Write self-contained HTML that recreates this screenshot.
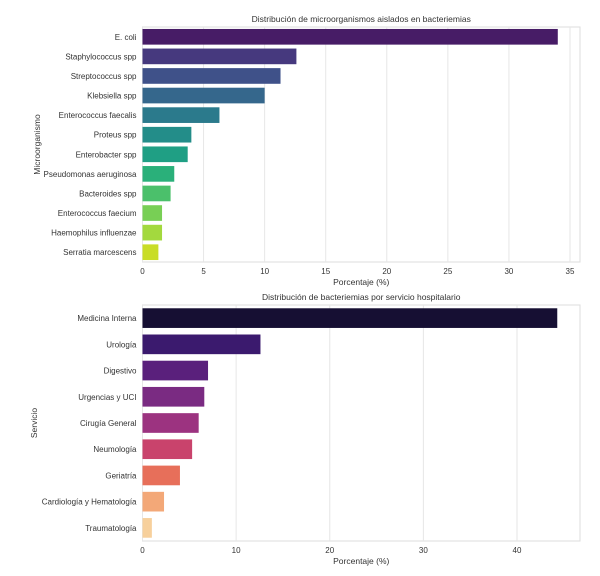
<!DOCTYPE html>
<html><head><meta charset="utf-8"><style>
body{margin:0;background:#fff;}
svg text{font-family:"Liberation Sans",sans-serif;fill:#333;}
</style></head><body>
<svg id="c" width="600" height="571"></svg>
<script>
const micro = ["E. coli","Staphylococcus spp","Streptococcus spp","Klebsiella spp","Enterococcus faecalis","Proteus spp","Enterobacter spp","Pseudomonas aeruginosa","Bacteroides spp","Enterococcus faecium","Haemophilus influenzae","Serratia marcescens"];
const microVals = [34,12.6,11.3,10,6.3,4,3.7,2.6,2.3,1.6,1.6,1.3];
const microTicks = [0,5,10,15,20,25,30,35];
const serv = ["Medicina Interna","Urología","Digestivo","Urgencias y UCI","Cirugía General","Neumología","Geriatría","Cardiología y Hematología","Traumatología"];
const servVals = [44.3,12.6,7,6.6,6,5.3,4,2.3,1];
const servTicks = [0,10,20,30,40];
const viridis = ["#471c66","#46397e","#3f5189","#35678c","#2b7a8c","#238d89","#1f9f84","#2ab07a","#4bc06b","#78cf55","#a3d93e","#c9dd27"];
const magma = ["#160f33","#3b1a6e","#5a207c","#7a2b82","#9c3380","#c9436c","#e76f5a","#f3a878","#f7d09c"];
const NS="http://www.w3.org/2000/svg";
const svg=document.getElementById('c');
function mk(t,a,txt){const e=document.createElementNS(NS,t);for(const k in a)e.setAttribute(k,a[k]);if(txt!==undefined)e.textContent=txt;svg.appendChild(e);return e;}
function chart(o){
  const x=v=>o.x0+v*o.scale;
  const band=(o.bottom-o.top)/o.cats.length;
  const y=i=>o.top+band*i;
  let e=mk('rect',{x:o.x0,y:o.top,width:o.right-o.x0,height:o.bottom-o.top,fill:'#fff',stroke:'#ddd','stroke-width':1});
  
  
  o.ticks.forEach(t=>{
    let g=mk('line',{x1:x(t),x2:x(t),y1:o.top,y2:o.bottom,stroke:'#e6e6e6','stroke-width':1});
    
    
    let l=mk('text',{x:x(t),y:o.bottom+12,'font-size':8,'text-anchor':'middle'},t);
    
    
  });
  o.cats.forEach((c,i)=>{
    let b=mk('rect',{x:x(0),y:y(i)+band*(1-o.bw)/2,width:x(o.vals[i])-x(0),height:band*o.bw,fill:o.colors[i]});
    
    
    let l=mk('text',{x:o.x0-6,y:y(i)+band/2+3,'font-size':8,'text-anchor':'end'},c);
    
    
  });
  let t=mk('text',{x:(o.x0+o.right)/2,y:o.top-5,'font-size':8.5,'text-anchor':'middle'},o.title);
  
  
  let xl=mk('text',{x:(o.x0+o.right)/2,y:o.bottom+23,'font-size':8.5,'text-anchor':'middle'},'Porcentaje (%)');
  
  
  const cy=(o.top+o.bottom)/2;
  let yl=mk('text',{x:o.ylx,y:cy,'font-size':8.5,'text-anchor':'middle',transform:`rotate(-90 ${o.ylx} ${cy})`},o.ylabel);
  
  
}
chart({id:'micro',cats:micro,vals:microVals,ticks:microTicks,colors:viridis,bw:0.8,x0:142.5,right:580,scale:(570-142.5)/35,top:27,bottom:262,title:'Distribución de microorganismos aislados en bacteriemias',ylabel:'Microorganismo',ylx:40});
chart({id:'serv',cats:serv,vals:servVals,ticks:servTicks,colors:magma,bw:0.75,x0:142.5,right:580,scale:(517-142.5)/40,top:305,bottom:541,title:'Distribución de bacteriemias por servicio hospitalario',ylabel:'Servicio',ylx:37});
</script>
</body></html>
